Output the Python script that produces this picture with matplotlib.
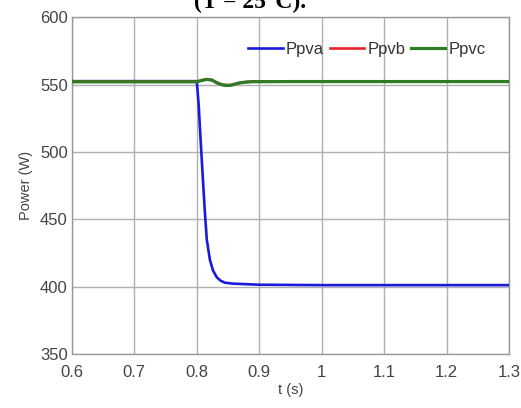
import matplotlib
matplotlib.use("Agg")
import matplotlib.pyplot as plt

plt.rcParams["font.family"] = ["Liberation Sans", "DejaVu Sans"]

# Data
t_a = [0.6, 0.7, 0.8, 0.803, 0.806, 0.810, 0.813, 0.816, 0.821, 0.826, 0.832, 0.838, 0.845, 0.858, 0.9, 1.0, 1.3]
p_a = [552.5, 552.5, 552.5, 535, 510, 478, 455, 435, 420, 412, 407, 404.5, 403, 402.3, 401.5, 401.2, 401.2]

t_bc = [0.6, 0.7, 0.8, 0.808, 0.816, 0.824, 0.832, 0.840, 0.848, 0.855, 0.862, 0.870, 0.880, 0.890, 0.95, 1.0, 1.3]
p_b = [552.3, 552.3, 552.3, 553.2, 554.0, 553.5, 551.5, 550.0, 549.5, 549.7, 550.6, 551.5, 552.0, 552.3, 552.4, 552.4, 552.4]
p_c = [552.0, 552.0, 552.0, 553.0, 553.8, 553.3, 551.3, 549.8, 549.3, 549.5, 550.4, 551.3, 551.8, 552.1, 552.2, 552.2, 552.2]

xticks = [0.6, 0.7, 0.8, 0.9, 1.0, 1.1, 1.2, 1.3]
xticklabels = ["0.6", "0.7", "0.8", "0.9", "1", "1.1", "1.2", "1.3"]
yticks = [350, 400, 450, 500, 550, 600]

fig = plt.figure(figsize=(5.21, 4.08), dpi=100)
ax = fig.add_axes([0.138, 0.132, 0.839, 0.826])

ax.plot(t_a, p_a, color="#1a1adc", lw=1.9, label="Ppva", zorder=3)
ax.plot(t_bc, p_b, color="#e8222a", lw=1.9, label="Ppvb", zorder=4)
ax.plot(t_bc, p_c, color="#2e7d24", lw=2.3, label="Ppvc", zorder=5)

ax.set_xlim(0.6, 1.3)
ax.set_ylim(350, 600)
ax.set_xticks(xticks)
ax.set_xticklabels(xticklabels)
ax.set_yticks(yticks)
ax.grid(True, color="#b0b0b0", lw=1.0)
ax.tick_params(length=0, labelsize=12, colors="#444444")
ax.tick_params(axis="x", pad=8)
ax.tick_params(axis="y", pad=3)
for s in ax.spines.values():
    s.set_color("#999999")
    s.set_linewidth(1.0)

ax.set_xlabel("t (s)", fontsize=10.5, color="#444444", labelpad=2)
ax.set_ylabel("Power (W)", fontsize=10.5, color="#444444", labelpad=5)

leg = ax.legend(loc="center right", ncol=3, frameon=False, fontsize=12,
                handlelength=2.05, columnspacing=0.35, handletextpad=0.2,
                borderaxespad=0, borderpad=0,
                bbox_to_anchor=(0.947, 0.905))
for txt in leg.get_texts():
    txt.set_color("#333333")

fig.text(0.48, 0.968, "(T = 25°C).", ha="center", va="bottom",
         fontsize=17, fontweight="bold", family="Liberation Serif")

fig.savefig("out.png", dpi=100)
